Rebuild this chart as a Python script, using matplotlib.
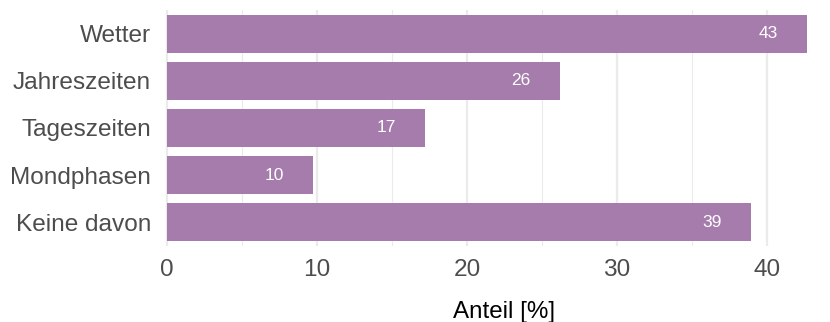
import numpy as np
import matplotlib
matplotlib.use("Agg")
import matplotlib.pyplot as plt

# Anteil der Nennungen je Kategorie (in Prozent)
kategorien = ["Wetter", "Jahreszeiten", "Tageszeiten", "Mondphasen", "Keine davon"]
anteile = [42.67, 26.2, 17.2, 9.73, 38.93]
xticks = [0, 10, 20, 30, 40]
xminor = [5, 15, 25, 35]

plt.rcParams['font.family'] = ['Liberation Sans', 'DejaVu Sans']

fig = plt.figure(figsize=(8.3, 3.22), dpi=100)
ax = fig.add_axes([165 / 830, 1 - 246 / 322, 643 / 830, 236 / 322])

farbe = '#A67CAD'
ypos = np.arange(len(kategorien))
ax.barh(ypos, anteile, height=0.8, color=farbe, zorder=2)

# Werte als Text in den Balken
for y, v in zip(ypos, anteile):
    ax.text(v - 2.6, y, f"{round(v):d}", color='white', fontsize=12.5,
            ha='center', va='center', zorder=3)

ax.set_xlim(-0.13, 42.73)
ax.set_ylim(len(kategorien) - 0.49, -0.51)
ax.set_yticks(ypos)
ax.set_yticklabels(kategorien)
ax.set_xticks(xticks)
ax.set_xticks(xminor, minor=True)

# Gitterlinien wie bei theme_minimal
ax.grid(axis='x', which='major', color='#EBEBEB', linewidth=1.6, zorder=0)
ax.grid(axis='x', which='minor', color='#EBEBEB', linewidth=0.8, zorder=0)
ax.grid(axis='y', visible=False)

for s in ax.spines.values():
    s.set_visible(False)

ax.tick_params(axis='both', which='both', length=0, labelsize=17.6, colors='#4D4D4D')
ax.tick_params(axis='x', pad=9)
ax.tick_params(axis='y', pad=10)

ax.set_xlabel("Anteil [%]", fontsize=17.4, color='black')
ax.xaxis.set_label_coords((504 - 165) / 643, -55 / 236)

fig.savefig("out.png", dpi=100, facecolor='white')
